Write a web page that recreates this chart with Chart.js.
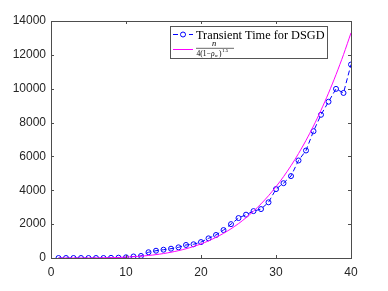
<!DOCTYPE html>
<html>
<head>
<meta charset="utf-8">
<script src="https://cdn.jsdelivr.net/npm/chart.js@4"></script>
<style>
  body { margin: 0; background: #fff; }
  canvas { display: block; }
</style>
</head>
<body>
<canvas id="chartTransient" width="388" height="291"></canvas>
<script>
// valeurs
const nodes = [1,2,3,4,5,6,7,8,9,10,11,12,13,14,15,16,17,18,19,20,
  21,22,23,24,25,26,27,28,29,30,31,32,33,34,35,36,37,38,39,40];
const transientDSGD = [0,0,0,0,0,0,0,10,20,40,90,120,340,430,490,550,630,770,810,940,
  1160,1360,1650,2000,2360,2560,2770,2890,3290,4070,4420,4840,5760,6350,7490,8460,9230,9990,9750,11430];
const boundCurve = [0,0,0,1,3,7,12,21,34,52,76,108,149,200,263,341,434,546,678,832,
  1011,1218,1455,1725,2031,2376,2764,3196,3678,4212,4802,5453,6166,6947,7800,8728,9737,10830,12012,13300];
const xTicks = [0, 10, 20, 30, 40];
const yTicks = [0, 2000, 4000, 6000, 8000, 10000, 12000, 14000];

const axisColor = '#4d4d4d';

function toPoints(ys) {
  return nodes.map((n, i) => ({ x: n, y: ys[i] }));
}

// cadre + graduations vers l'intérieur (style matlab)
const boxPlugin = {
  id: 'boxPlugin',
  afterDatasetsDraw(chart) {
    const { ctx, chartArea: a, scales } = chart;
    ctx.save();
    ctx.strokeStyle = axisColor;
    ctx.lineWidth = 1;
    ctx.strokeRect(a.left + 0.5, a.top + 0.5, a.right - a.left, a.bottom - a.top);
    ctx.beginPath();
    xTicks.forEach(v => {
      const px = Math.round(scales.x.getPixelForValue(v)) + 0.5;
      ctx.moveTo(px, a.bottom); ctx.lineTo(px, a.bottom - 3);
      ctx.moveTo(px, a.top); ctx.lineTo(px, a.top + 3);
    });
    yTicks.forEach(v => {
      const py = Math.round(scales.y.getPixelForValue(v)) + 0.5;
      ctx.moveTo(a.left, py); ctx.lineTo(a.left + 3, py);
      ctx.moveTo(a.right, py); ctx.lineTo(a.right - 3, py);
    });
    ctx.stroke();
    ctx.restore();
  }
};

// légende avec la fraction n / 4(1-rho_w)^1.5
const legendPlugin = {
  id: 'legendPlugin',
  afterDraw(chart) {
    const ctx = chart.ctx;
    ctx.save();
    ctx.fillStyle = '#fff';
    ctx.fillRect(170.5, 26.5, 157, 32);
    ctx.strokeStyle = '#555';
    ctx.lineWidth = 1;
    ctx.strokeRect(170.5, 26.5, 157, 32);

    // entrée 1
    ctx.strokeStyle = '#0000ff';
    ctx.setLineDash([5, 3]);
    ctx.beginPath(); ctx.moveTo(173, 34.5); ctx.lineTo(193, 34.5); ctx.stroke();
    ctx.setLineDash([]);
    ctx.beginPath(); ctx.arc(183, 34.5, 2.5, 0, Math.PI * 2);
    ctx.fillStyle = '#fff'; ctx.fill(); ctx.stroke();
    ctx.fillStyle = '#000';
    ctx.font = '12.3px "Liberation Serif", serif';
    ctx.textBaseline = 'alphabetic';
    ctx.fillText('Transient Time for DSGD', 196, 38.5);

    // entrée 2
    ctx.strokeStyle = '#ff00ff';
    ctx.beginPath(); ctx.moveTo(173, 49.5); ctx.lineTo(193, 49.5); ctx.stroke();
    ctx.fillStyle = '#000';
    ctx.font = 'italic 8.5px "Liberation Serif", serif';
    ctx.textAlign = 'center';
    ctx.fillText('n', 214, 46.3);
    ctx.strokeStyle = '#000';
    ctx.lineWidth = 0.6;
    ctx.beginPath(); ctx.moveTo(196, 48.3); ctx.lineTo(234, 48.3); ctx.stroke();
    ctx.textAlign = 'left';
    ctx.font = '7.5px "Liberation Serif", serif';
    ctx.fillText('4(1\u2212', 196.5, 55.8);
    ctx.font = 'italic 7.5px "Liberation Serif", serif';
    ctx.fillText('\u03c1', 211, 55.8);
    ctx.font = 'italic 5px "Liberation Serif", serif';
    ctx.fillText('w', 214.8, 57.3);
    ctx.font = '7.5px "Liberation Serif", serif';
    ctx.fillText(')', 219, 55.8);
    ctx.font = '5px "Liberation Serif", serif';
    ctx.fillText('1.5', 222, 52.3);
    ctx.restore();
  }
};

new Chart(document.getElementById('chartTransient'), {
  type: 'scatter',
  data: {
    datasets: [
      {
        label: 'Transient Time for DSGD',
        data: toPoints(transientDSGD),
        showLine: true,
        borderColor: '#0000ff',
        borderWidth: 1,
        borderDash: [5, 3],
        pointRadius: 2.5,
        pointBorderWidth: 1,
        pointBorderColor: '#0000ff',
        pointBackgroundColor: 'rgba(0,0,0,0)',
        order: 1
      },
      {
        label: 'bound',
        data: toPoints(boundCurve),
        showLine: true,
        borderColor: '#ff00ff',
        borderWidth: 1,
        pointRadius: 0,
        tension: 0.3,
        order: 0
      }
    ]
  },
  options: {
    responsive: false,
    animation: false,
    layout: { padding: { top: 21, right: 37, left: 0, bottom: 0 } },
    plugins: {
      legend: { display: false },
      tooltip: { enabled: false }
    },
    scales: {
      x: {
        type: 'linear',
        min: 0, max: 40,
        afterFit(s) { s.height = 33; },
        afterBuildTicks(s) { s.ticks = xTicks.map(v => ({ value: v })); },
        grid: { display: false, drawTicks: false },
        border: { display: false },
        ticks: { color: '#262626', padding: 7, font: { family: '"Liberation Sans", Arial', size: 12 } }
      },
      y: {
        min: 0, max: 14000,
        afterFit(s) { s.width = 51; },
        afterBuildTicks(s) { s.ticks = yTicks.map(v => ({ value: v })); },
        grid: { display: false, drawTicks: false },
        border: { display: false },
        ticks: { color: '#262626', padding: 5, font: { family: '"Liberation Sans", Arial', size: 12 },
          callback: v => String(v) }
      }
    }
  },
  plugins: [boxPlugin, legendPlugin]
});
</script>
</body>
</html>
